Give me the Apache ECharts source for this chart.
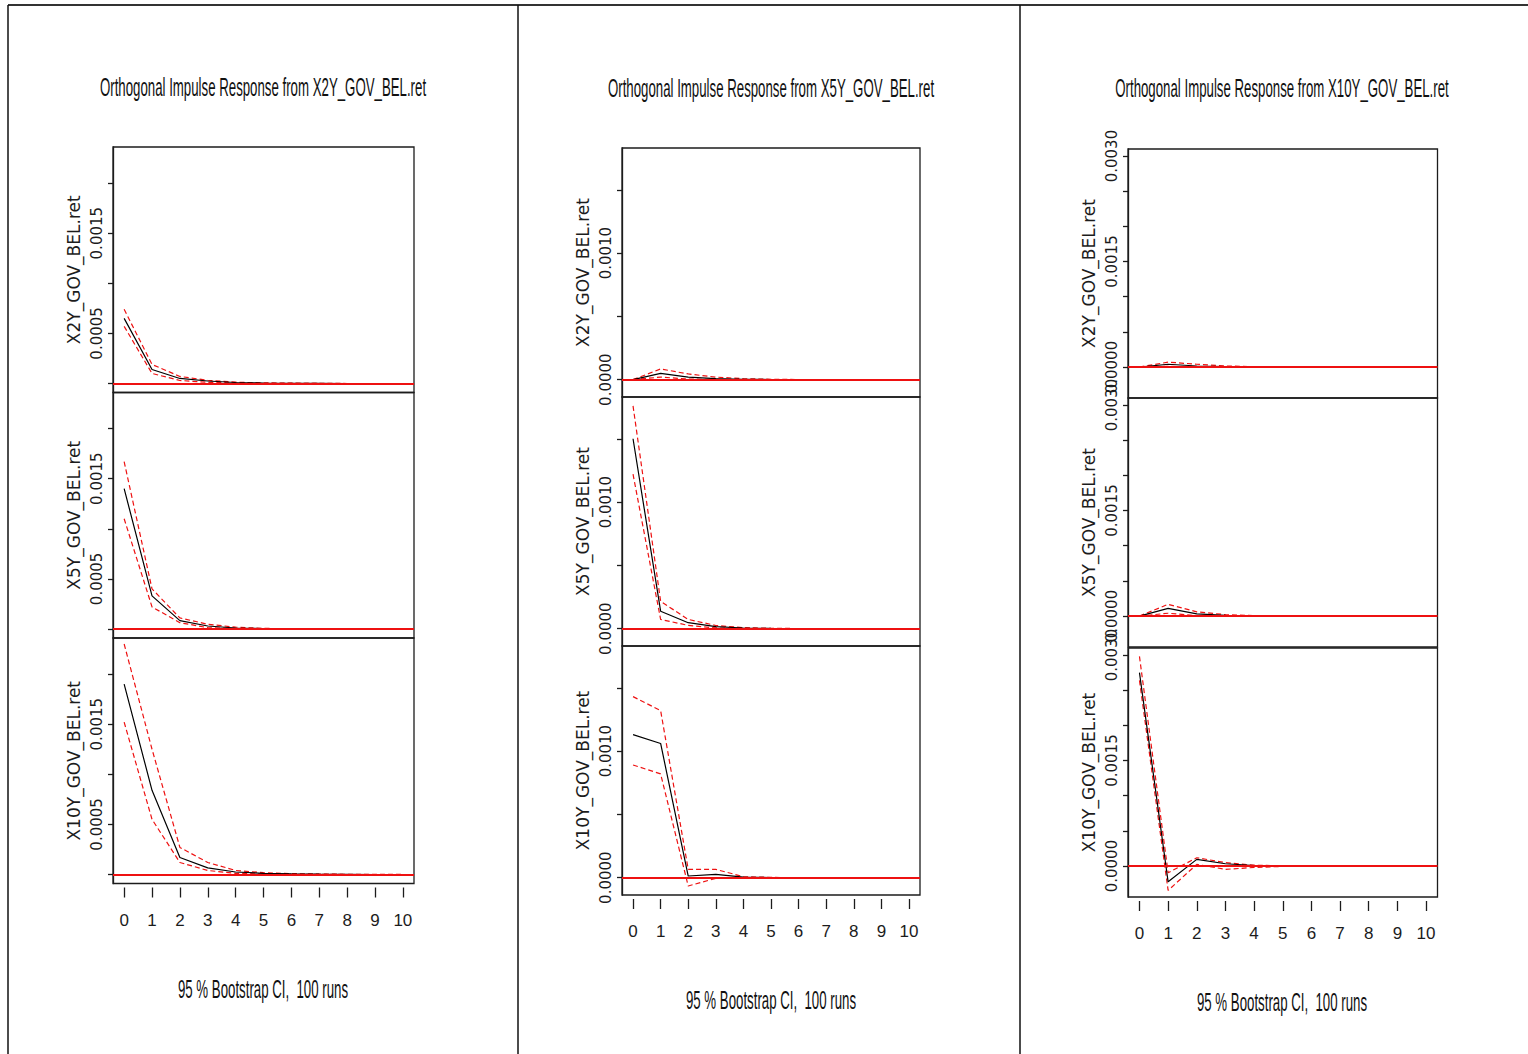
<!DOCTYPE html>
<html>
<head>
<meta charset="utf-8">
<script src="https://cdn.jsdelivr.net/npm/echarts@6/dist/echarts.min.js"></script>
<style>
  html, body { margin: 0; padding: 0; background: #ffffff; }
  #chart { width: 1528px; height: 1054px; }
</style>
</head>
<body>
<div id="chart"></div>
<script>
// Forecast horizons (x axis ticks / labels)
const horizons = [0, 1, 2, 3, 4, 5, 6, 7, 8, 9, 10];
const variables = ['X2Y_GOV_BEL.ret', 'X5Y_GOV_BEL.ret', 'X10Y_GOV_BEL.ret'];
const footerText = '95 % Bootstrap CI,  100 runs';

// ---- Impulse: X2Y_GOV_BEL.ret ----
const irf_x2y_x2y = [0.00065, 0.00014, 0.00005, 0.000025, 0.00001, 0.000005, 0.000002, 0.000001, 0, 0, 0];
const hi_x2y_x2y  = [0.00074, 0.00019, 0.00007, 0.000032, 0.000013, 0.000006, 0.000003, 0.000001, 0, 0, 0];
const lo_x2y_x2y  = [0.00057, 0.00010, 0.00003, 0.000012, 0.000005, 0.000002, 0.000001, 0, 0, 0, 0];

const irf_x2y_x5y = [0.00140, 0.00033, 0.000083, 0.00003, 0.00001, 0.000004, 0.000001, 0, 0, 0, 0];
const hi_x2y_x5y  = [0.00167, 0.00040, 0.00011, 0.000047, 0.000018, 0.000006, 0.000002, 0.000001, 0, 0, 0];
const lo_x2y_x5y  = [0.00110, 0.00022, 0.000063, 0.000013, 0.000004, 0.000001, 0, 0, 0, 0, 0];

const irf_x2y_x10y = [0.00190, 0.00084, 0.00017, 0.000066, 0.000025, 0.000012, 0.000006, 0.000003, 0.000001, 0, 0];
const hi_x2y_x10y  = [0.00230, 0.00125, 0.00027, 0.00012, 0.00004, 0.000018, 0.000009, 0.000004, 0.000002, 0.000001, 0];
const lo_x2y_x10y  = [0.00152, 0.00055, 0.00012, 0.00004, 0.000012, 0.000005, 0.000002, 0.000001, 0, 0, 0];

// ---- Impulse: X5Y_GOV_BEL.ret ----
const irf_x5y_x2y = [0, 0.00005, 0.00002, 0.000008, 0.000003, 0.000001, 0, 0, 0, 0, 0];
const hi_x5y_x2y  = [0, 0.000085, 0.000045, 0.00002, 0.000008, 0.000003, 0.000001, 0, 0, 0, 0];
const lo_x5y_x2y  = [0, 0.00002, 0.000005, 0.000001, 0, 0, 0, 0, 0, 0, 0];

const irf_x5y_x5y = [0.00150, 0.000138, 0.000047, 0.000016, 0.000005, 0.000002, 0.000001, 0, 0, 0, 0];
const hi_x5y_x5y  = [0.00176, 0.000216, 0.000073, 0.000025, 0.000008, 0.000003, 0.000001, 0, 0, 0, 0];
const lo_x5y_x5y  = [0.00122, 0.000073, 0.000026, 0.000006, 0.000002, 0.000001, 0, 0, 0, 0, 0];

const irf_x5y_x10y = [0.00113, 0.00106, 0.000013, 0.000026, 0.000004, 0.000001, 0, 0, 0, 0, 0];
const hi_x5y_x10y  = [0.00143, 0.00132, 0.000065, 0.000065, 0.000008, 0.000002, 0, 0, 0, 0, 0];
const lo_x5y_x10y  = [0.00089, 0.00082, -0.000066, -0.000005, -0.000002, 0, 0, 0, 0, 0, 0];

// ---- Impulse: X10Y_GOV_BEL.ret ----
const irf_x10y_x2y = [0, 0.00004, 0.000015, 0.000005, 0.000002, 0.000001, 0, 0, 0, 0, 0];
const hi_x10y_x2y  = [0, 0.00007, 0.00004, 0.000015, 0.000006, 0.000002, 0.000001, 0, 0, 0, 0];
const lo_x10y_x2y  = [0, 0.00001, -0.000003, -0.000002, 0, 0, 0, 0, 0, 0, 0];

const irf_x10y_x5y = [0, 0.00011, 0.00003, 0.00001, 0.000003, 0.000001, 0, 0, 0, 0, 0];
const hi_x10y_x5y  = [0, 0.000167, 0.00006, 0.00002, 0.000006, 0.000002, 0.000001, 0, 0, 0, 0];
const lo_x10y_x5y  = [0, 0.00004, 0.000005, 0.000002, 0, 0, 0, 0, 0, 0, 0];

const irf_x10y_x10y = [0.00275, -0.000224, 0.000095, 0.000033, 0.000008, 0.000002, 0, 0, 0, 0, 0];
const hi_x10y_x10y  = [0.00298, -0.000095, 0.000118, 0.00005, 0.000012, 0.000003, 0, 0, 0, 0, 0];
const lo_x10y_x10y  = [0.00264, -0.000346, 0.000024, -0.000047, -0.00002, -0.000005, 0, 0, 0, 0, 0];

// y-axis tick positions and printed labels for each impulse panel
const yTicks_x2y  = [0, 0.0005, 0.001, 0.0015, 0.002];
const yLabels_x2y = [0.0005, 0.0015];
const yTicks_x5y  = [0, 0.0005, 0.001, 0.0015];
const yLabels_x5y = [0, 0.001];
const yTicks_x10y  = [0, 0.0005, 0.001, 0.0015, 0.002, 0.0025, 0.003];
const yLabels_x10y = [0, 0.0015, 0.003];

// Panels: one per impulse variable, three stacked responses each
const panels = [
  { impulse: variables[0], ticks: yTicks_x2y, labels: yLabels_x2y,
    resp: [[irf_x2y_x2y, lo_x2y_x2y, hi_x2y_x2y], [irf_x2y_x5y, lo_x2y_x5y, hi_x2y_x5y], [irf_x2y_x10y, lo_x2y_x10y, hi_x2y_x10y]] },
  { impulse: variables[1], ticks: yTicks_x5y, labels: yLabels_x5y,
    resp: [[irf_x5y_x2y, lo_x5y_x2y, hi_x5y_x2y], [irf_x5y_x5y, lo_x5y_x5y, hi_x5y_x5y], [irf_x5y_x10y, lo_x5y_x10y, hi_x5y_x10y]] },
  { impulse: variables[2], ticks: yTicks_x10y, labels: yLabels_x10y,
    resp: [[irf_x10y_x2y, lo_x10y_x2y, hi_x10y_x2y], [irf_x10y_x5y, lo_x10y_x5y, hi_x10y_x5y], [irf_x10y_x10y, lo_x10y_x10y, hi_x10y_x10y]] }
];

// Page geometry for each panel
const layout = [
  { left: 113,  width: 301,   tops: [147, 392.5, 638], height: 245.5, cx: 263,  titleY: 87, footY: 989,  ymin: -0.00009,  ymax: 0.00236 },
  { left: 622,  width: 298,   tops: [148, 397, 646],   height: 249,   cx: 771,  titleY: 88, footY: 1000, ymin: -0.000137, ymax: 0.00183 },
  { left: 1128, width: 309.5, tops: [149, 398, 648],   height: 249,   cx: 1282, titleY: 88, footY: 1002, ymin: -0.00044,  ymax: 0.0031 }
];

const INK = '#1c1c1c';
const RED = '#ee1111';
const grids = [], xAxes = [], yAxes = [], series = [], graphics = [];

const pairs = (vals) => horizons.map((h, i) => [h, vals[i]]);

panels.forEach((p, pi) => {
  const L = layout[pi];
  p.resp.forEach((r, ri) => {
    const gi = grids.length;
    const isBottom = ri === 2;
    grids.push({
      left: L.left, top: L.tops[ri], width: L.width, height: L.height,
      show: true, borderColor: INK, borderWidth: 1.3, backgroundColor: 'transparent',
      containLabel: false, outerBoundsMode: 'none'
    });
    xAxes.push({
      gridIndex: gi, type: 'value', min: -0.4, max: 10.4, position: 'bottom',
      offset: isBottom ? 4 : 0,
      axisLine: { show: false, onZero: false },
      splitLine: { show: false },
      axisTick: { show: isBottom, customValues: horizons, length: 10, lineStyle: { color: INK, width: 1.3 } },
      axisLabel: {
        show: isBottom, customValues: horizons, margin: 24,
        color: INK, fontSize: 17,
        fontFamily: '"Liberation Sans Narrow", "Liberation Sans", Arial, sans-serif'
      }
    });
    yAxes.push({
      gridIndex: gi, type: 'value', min: L.ymin, max: L.ymax, position: 'left',
      name: variables[ri], nameLocation: 'middle', nameRotate: 90, nameGap: 31,
      nameTextStyle: { color: INK, fontSize: 17, fontFamily: '"DejaVu Sans", sans-serif' },
      axisLine: { show: true, onZero: false, lineStyle: { color: INK, width: 1.3 } },
      splitLine: { show: false },
      axisTick: { show: true, customValues: p.ticks, length: 5, lineStyle: { color: INK, width: 1.3 } },
      axisLabel: {
        customValues: p.labels, rotate: 90, margin: 9,
        color: INK, fontSize: 15, fontFamily: '"DejaVu Sans", sans-serif',
        formatter: (v) => Number(v).toFixed(4)
      }
    });
    const [est, lo, hi] = r;
    const dashed = { color: RED, width: 1.2, type: [5, 3] };
    series.push(
      { type: 'line', xAxisIndex: gi, yAxisIndex: gi, data: pairs(hi), symbol: 'none', lineStyle: dashed, z: 2, silent: true },
      { type: 'line', xAxisIndex: gi, yAxisIndex: gi, data: pairs(lo), symbol: 'none', lineStyle: dashed, z: 2, silent: true },
      { type: 'line', xAxisIndex: gi, yAxisIndex: gi, data: pairs(est), symbol: 'none', lineStyle: { color: '#000', width: 1.2 }, z: 3, silent: true },
      { type: 'line', xAxisIndex: gi, yAxisIndex: gi, data: [], symbol: 'none', z: 5, silent: true,
        markLine: { silent: true, symbol: ['none', 'none'], label: { show: false },
          lineStyle: { color: RED, width: 2, type: 'solid' }, data: [{ yAxis: 0 }] } }
    );
  });

  // Panel title and footer (condensed lettering)
  graphics.push({
    type: 'text', x: L.cx, y: L.titleY, scaleX: 0.53,
    style: { text: 'Orthogonal Impulse Response from ' + p.impulse, fontSize: 25,
      fontFamily: '"Liberation Sans", Arial, sans-serif', fill: '#111', align: 'center', verticalAlign: 'middle' }
  });
  graphics.push({
    type: 'text', x: L.cx, y: L.footY, scaleX: 0.53,
    style: { text: footerText, fontSize: 25,
      fontFamily: '"Liberation Sans", Arial, sans-serif', fill: '#111', align: 'center', verticalAlign: 'middle' }
  });
});

// Frame lines separating the three panels
graphics.push(
  { type: 'line', shape: { x1: 8, y1: 5, x2: 1528, y2: 5 }, style: { stroke: '#333', lineWidth: 2 } },
  { type: 'line', shape: { x1: 8, y1: 5, x2: 8, y2: 1054 }, style: { stroke: '#111', lineWidth: 1.5 } },
  { type: 'line', shape: { x1: 518, y1: 5, x2: 518, y2: 1054 }, style: { stroke: '#111', lineWidth: 1.5 } },
  { type: 'line', shape: { x1: 1020, y1: 5, x2: 1020, y2: 1054 }, style: { stroke: '#111', lineWidth: 1.5 } }
);

const chart = echarts.init(document.getElementById('chart'), null, { renderer: 'svg' });
chart.setOption({
  animation: false,
  backgroundColor: '#ffffff',
  grid: grids,
  xAxis: xAxes,
  yAxis: yAxes,
  series: series,
  graphic: graphics
});
</script>
</body>
</html>
